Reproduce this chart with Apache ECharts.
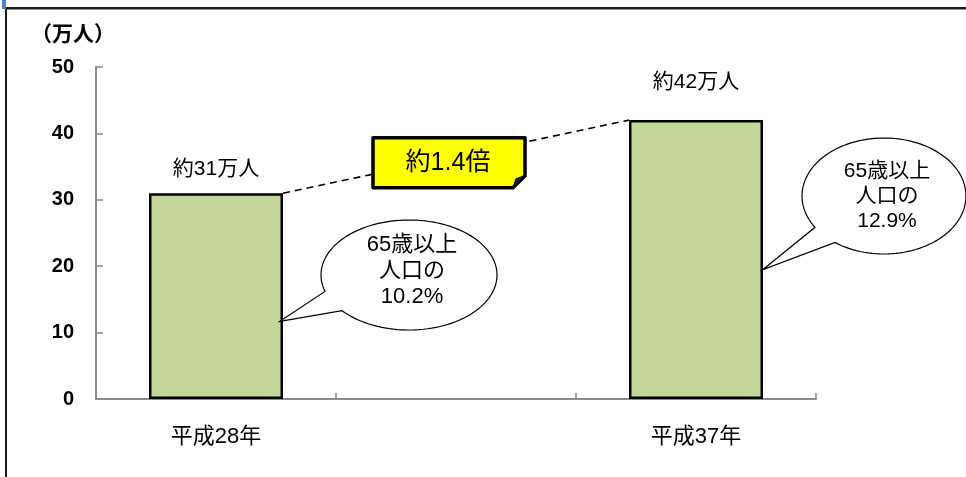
<!DOCTYPE html>
<html>
<head>
<meta charset="utf-8">
<script src="https://cdn.jsdelivr.net/npm/echarts@6/dist/echarts.min.js"></script>
<style>
  html, body { margin: 0; padding: 0; background: #fff; }
  #chart { width: 966px; height: 477px; }
</style>
</head>
<body>
<div id="chart"></div>
<script>
// Population aged 65+ (万人) for two fiscal years; middle slot left blank
const categories = ['平成28年', '', '平成37年'];
const population = [31, 42];
const barValues = [population[0], null, population[1]];
const barLabels = ['約31万人', '', '約42万人'];
const yTicks = [0, 10, 20, 30, 40, 50];
const ratioText = '約1.4倍';
const shareTexts = ['65歳以上\n人口の\n10.2%', '65歳以上\n人口の\n12.9%'];

const FONT = '"Liberation Sans", "Noto Sans CJK JP", sans-serif';
const chart = echarts.init(document.getElementById('chart'));

const labelDistance = [13, 27];

chart.setOption({
  animation: false,
  backgroundColor: '#ffffff',
  grid: { left: 96, right: 150, top: 67, bottom: 78 },
  xAxis: {
    type: 'category',
    data: categories,
    axisLine: { lineStyle: { color: '#8c8c8c', width: 2 } },
    axisTick: { show: true, inside: true, length: 6, interval: 0, lineStyle: { color: '#8c8c8c', width: 1.5 } },
    axisLabel: { interval: 0, margin: 27, color: '#000', fontSize: 22, fontFamily: FONT }
  },
  yAxis: {
    type: 'value',
    min: yTicks[0],
    max: yTicks[yTicks.length - 1],
    interval: 10,
    splitLine: { show: false },
    axisLine: { show: true, lineStyle: { color: '#8c8c8c', width: 2 } },
    axisTick: { show: true, inside: true, length: 7, lineStyle: { color: '#8c8c8c', width: 1.5 } },
    axisLabel: { margin: 22, color: '#000', fontSize: 20, fontFamily: FONT, fontWeight: 'bold' }
  },
  series: [{
    type: 'bar',
    data: barValues.map((v, i) => v == null ? v : {
      value: v,
      label: { distance: labelDistance[i === 0 ? 0 : 1] }
    }),
    barWidth: 134,
    itemStyle: { color: '#c3d69b', borderColor: '#000', borderWidth: 2.5 },
    label: {
      show: true,
      position: 'top',
      color: '#000',
      fontSize: 21,
      fontFamily: FONT,
      formatter: p => barLabels[p.dataIndex]
    }
  }]
});

// Annotations placed from the bars' pixel positions
const half = 67;
const p0 = chart.convertToPixel({ xAxisIndex: 0, yAxisIndex: 0 }, [0, population[0]]);
const p1 = chart.convertToPixel({ xAxisIndex: 0, yAxisIndex: 0 }, [2, population[1]]);
const c0 = [p0[0] + half, p0[1]];          // top-right corner of first bar
const c1 = [p1[0] - half, p1[1]];          // top-left corner of second bar
const mid = [(c0[0] + c1[0]) / 2, (c0[1] + c1[1]) / 2];

// Speech bubble outline: ellipse with a wedge-shaped tail, as one polygon
function bubblePoints(cx, cy, rx, ry, ax1, ax2, tip) {
  const ang = ax => {
    const dx = Math.max(-1, Math.min(1, (ax - cx) / rx));
    return Math.atan2(Math.sqrt(1 - dx * dx), dx); // lower half of the ellipse
  };
  const t1 = ang(ax1), t2 = ang(ax2);
  const pts = [tip];
  const steps = 120;
  // go the long way round (increasing angle) from t1 to t2 + 2π
  const end = t2 + Math.PI * 2;
  for (let i = 0; i <= steps; i++) {
    const t = t1 + (end - t1) * i / steps;
    pts.push([cx + rx * Math.cos(t), cy + ry * Math.sin(t)]);
  }
  return pts;
}

function bubble(cx, cy, rx, ry, ax1, ax2, tip, text, fs, lh, dy) {
  return [
    {
      type: 'polygon',
      shape: { points: bubblePoints(cx, cy, rx, ry, ax1, ax2, tip) },
      style: { fill: '#fff', stroke: '#000', lineWidth: 1.2 },
      z: 10
    },
    {
      type: 'text',
      x: cx + 3, y: cy + dy,
      style: {
        text: text, fill: '#000', font: `${fs}px ${FONT}`,
        align: 'center', verticalAlign: 'middle', lineHeight: lh
      },
      z: 11
    }
  ];
}

const boxL = mid[0] - 83, boxT = mid[1] - 19, boxW = 152, boxH = 50;

chart.setOption({
  graphic: [
    // panel frame
    { type: 'rect', shape: { x: 5, y: 7, width: 962, height: 2.5 }, style: { fill: '#1a1a1a' }, z: 20 },
    { type: 'rect', shape: { x: 5, y: 7, width: 2, height: 470 }, style: { fill: '#1a1a1a' }, z: 20 },
    { type: 'rect', shape: { x: 2, y: 0, width: 4, height: 9 }, style: { fill: '#4f81bd' }, z: 20 },
    // unit title
    {
      type: 'text', x: 31, y: 35,
      style: { text: '（万人）', fill: '#000', font: `bold 21px ${FONT}`, verticalAlign: 'middle' },
      z: 5
    },
    // dashed growth line between bar tops
    {
      type: 'line',
      shape: { x1: c0[0], y1: c0[1], x2: c1[0], y2: c1[1] },
      style: { stroke: '#000', lineWidth: 1.6, lineDash: [7, 5] },
      z: 5
    },
    // ratio callout with folded corner
    {
      type: 'polygon',
      shape: { points: [[boxL, boxT], [boxL + boxW, boxT], [boxL + boxW, boxT + boxH - 12], [boxL + boxW - 12, boxT + boxH], [boxL, boxT + boxH]] },
      style: { fill: '#ffff00', stroke: '#000', lineWidth: 3.5, lineJoin: 'round' },
      z: 12
    },
    {
      type: 'polygon',
      shape: { points: [[boxL + boxW, boxT + boxH - 12], [boxL + boxW - 12, boxT + boxH], [boxL + boxW - 9, boxT + boxH - 9]] },
      style: { fill: '#222', stroke: '#000', lineWidth: 1 },
      z: 13
    },
    {
      type: 'text', x: boxL + boxW / 2 - 1, y: boxT + boxH / 2,
      style: { text: ratioText, fill: '#000', font: `25px ${FONT}`, align: 'center', verticalAlign: 'middle' },
      z: 14
    },
    ...bubble(c0[0] + 126, 275, 88, 55, c0[0] + 42, c0[0] + 59, [c0[0] - 3, chart.convertToPixel({ yAxisIndex: 0 }, 11.7)], shareTexts[0], 22, 26, -4),
    ...bubble(p1[0] + half + 121, 196, 82, 58, p1[0] + half + 52, p1[0] + half + 72, [p1[0] + half, chart.convertToPixel({ yAxisIndex: 0 }, 19.5)], shareTexts[1], 21, 25, 0)
  ]
});
</script>
</body>
</html>
